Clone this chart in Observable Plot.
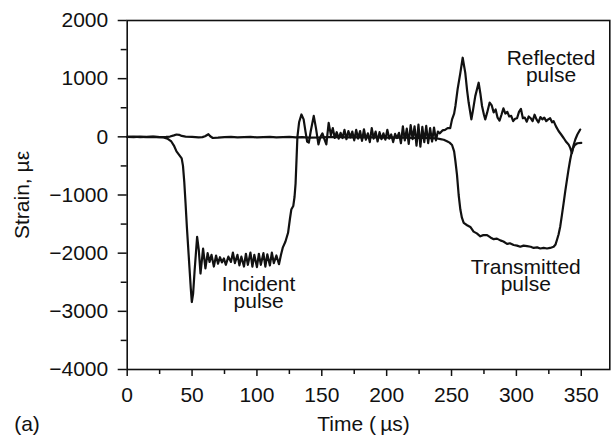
<!DOCTYPE html>
<html>
<head>
<meta charset="utf-8">
<script src="https://cdn.jsdelivr.net/npm/d3@7"></script>
<script src="https://cdn.jsdelivr.net/npm/@observablehq/plot@0.6"></script>
<style>
  html, body { margin: 0; padding: 0; background: #fff; }
</style>
</head>
<body>
<div id="chart"></div>
<script>
// Incident + reflected pulse (input bar gauge)
const incidentTime = [0,5,10,15,20,25,28,31,34,36,38,40,42,43,44,45,46,47,48,49,49.8,50.8,52,53.9,55.2,56.5,58.5,60.3,62,63.5,65,66.8,68.5,70,71.5,73,74.5,76,78,80,81.5,83,85,86.5,88,90,91.5,93,95,96.5,98,100,101.5,103,105,106.5,108,110,111.5,113,115,117,118.5,120,122,124,125.5,126.5,128,129,129.8,130.5,131.2,132.5,134.3,136,137.5,138.7,140,141.5,143.8,145.5,147.4,149,150.5,152,153.5,155.3,157,158.5,160,161.5,163,164.5,166,167.5,169,170.5,172,173.5,175,176.5,178,179.5,181,182.5,184,185.5,187,188.5,190,191.5,193,194.5,196,197.5,199,200.5,202,203.5,205,206.5,208,209.5,211,212.5,214,215.5,217,218.5,220,221.5,223,224.5,226,227.5,229,230.5,232,233.5,235,236.5,238,239.5,241,243,245,247,249,250.4,252,253,254.7,256.8,258.6,260.6,262,263.2,265.3,266.5,268.3,270.9,272.2,273.5,275,276,277.5,279.4,281,282.5,284,285.5,287,288.5,290,291.5,293,294.5,296,297.5,299,300.5,302,303.5,305,306.5,308,309.5,311,312.5,314,315.5,317,318.5,320,321.5,323,324.5,326,327.5,328.7,330.5,332.5,334.5,336.4,338.5,340.2,341.5,342.8,344,345.4,347,349.2];
const incidentStrain = [0,5,-5,0,5,-5,-10,-30,-80,-150,-250,-310,-370,-500,-780,-1150,-1550,-1900,-2250,-2600,-2840,-2700,-2290,-1720,-1950,-2350,-1920,-2260,-2000,-2150,-2030,-2230,-2040,-2180,-2070,-2160,-2090,-2200,-2060,-2150,-1990,-2170,-2030,-2210,-2060,-2230,-2010,-2200,-1990,-2230,-2030,-2240,-2010,-2200,-2000,-2230,-2020,-2210,-1990,-2170,-2040,-2190,-2030,-1900,-1800,-1650,-1400,-1250,-1190,-1030,-800,-400,0,250,385,300,80,-80,-100,100,360,150,-130,0,60,-40,-130,240,30,150,-20,80,-30,70,-20,120,-40,100,-10,90,-60,120,-30,100,-70,130,-50,60,-90,150,-30,90,-80,80,-40,60,-50,120,-30,40,-90,50,-20,70,-110,180,-60,140,-120,200,-40,180,-150,210,-170,170,-90,190,-110,150,-80,160,-60,90,60,110,120,150,150,300,400,530,820,1100,1360,1100,800,590,300,450,700,930,750,530,380,300,420,590,540,420,470,330,280,380,490,400,430,350,360,270,310,320,430,480,320,330,260,350,320,270,380,300,250,340,300,330,270,300,320,250,270,180,100,40,-20,-90,-130,-190,-280,-150,-45,40,125];

// Transmitted pulse (output bar gauge)
const transmittedTime = [0,5,10,15,20,25,30,33,36,38,40,42,45,50,55,58,60,62.6,64,66,70,75,80,85,90,95,100,105,110,115,120,125,130,135,140,150,160,170,180,190,200,210,220,230,238,241.5,244,246.5,248.5,250.4,252,253,254.2,255.5,256.8,258,259.4,262,264.5,267,269.5,272.2,274.5,277.4,280,282.5,285,287.6,290,292.8,295,297.9,300.5,303,305.5,308.2,311,313.3,316,318.4,321,323.6,326,328.7,330.2,331.3,332.5,333.8,335,336.4,337.7,339,340.2,341.5,342.5,343.6,345,347,350];
const transmittedStrain = [0,-5,5,-5,0,-5,0,5,25,40,35,15,5,0,-10,-5,10,45,10,-20,-15,-5,0,-10,-5,0,-10,-5,0,-10,-5,0,-10,-5,-15,-10,0,-10,-5,-10,-15,-10,-20,-20,-25,-40,-50,-75,-100,-140,-250,-420,-650,-1000,-1250,-1390,-1480,-1520,-1550,-1630,-1660,-1710,-1690,-1690,-1730,-1760,-1750,-1780,-1800,-1840,-1830,-1860,-1870,-1890,-1870,-1880,-1890,-1910,-1900,-1920,-1910,-1920,-1910,-1890,-1850,-1770,-1680,-1540,-1360,-1140,-930,-735,-560,-390,-280,-200,-140,-110,-105];

// Axis ticks
const xMajorTicks = [0,50,100,150,200,250,300,350];
const xMinorTicks = [25,75,125,175,225,275,325];
const yMajorTicks = [-4000,-3000,-2000,-1000,0,1000,2000];
const yMinorTicks = [-3500,-2500,-1500,-500,500,1500];

// Annotations (anchor = baseline of the last line)
const labelText = ["Incident\npulse","Transmitted\npulse","Reflected\npulse"];
const labelTime = [101.3,307.2,326.7];
const labelStrain = [-2943,-2646,941];

const incident = incidentTime.map((t, i) => ({t, s: incidentStrain[i]}));
const transmitted = transmittedTime.map((t, i) => ({t, s: transmittedStrain[i]}));
const labels = labelText.map((text, i) => ({text, t: labelTime[i], s: labelStrain[i]}));

const fmt = d3.format("d");
const ink = "#111";

const chart = Plot.plot({
  width: 613,
  height: 439,
  marginLeft: 126.7,
  marginRight: 3.7,
  marginTop: 20,
  marginBottom: 70,
  style: {fontFamily: "'Liberation Sans', Arial, Helvetica, sans-serif", fontSize: "21px", color: ink, background: "#fff", overflow: "visible"},
  x: {domain: [0, 372]},
  y: {domain: [-4000, 2000]},
  marks: [
    Plot.frame({stroke: ink, strokeWidth: 1.6}),
    Plot.axisX({ticks: xMajorTicks, tickSize: 7, tickPadding: 11, tickFormat: fmt, label: null, stroke: ink, strokeWidth: 1.5, fontSize: 21}),
    Plot.axisX({ticks: xMinorTicks, tickSize: 5, tickFormat: () => "", label: null, stroke: ink, strokeWidth: 1.5}),
    Plot.axisY({ticks: yMajorTicks, tickSize: 9, tickPadding: 10, tickFormat: fmt, label: null, stroke: ink, strokeWidth: 1.5, fontSize: 21}),
    Plot.axisY({ticks: yMinorTicks, tickSize: 6, tickFormat: () => "", label: null, stroke: ink, strokeWidth: 1.5}),
    Plot.line(incident, {x: "t", y: "s", stroke: ink, strokeWidth: 2.2}),
    Plot.line(transmitted, {x: "t", y: "s", stroke: ink, strokeWidth: 2.2}),
    Plot.text(labels, {x: "t", y: "s", text: "text", textAnchor: "middle", lineAnchor: "bottom", lineHeight: 0.8, fontSize: 21, fill: ink}),
    Plot.text(["Time (\u2009\u00b5s)"], {frameAnchor: "bottom", lineAnchor: "bottom", dy: 61, dx: -5, fontSize: 21, fill: ink}),
    Plot.text(["(a)"], {frameAnchor: "bottom-left", textAnchor: "start", lineAnchor: "bottom", dy: 61, dx: -113, fontSize: 21, fill: ink}),
    Plot.text(["Strain, \u00b5\u03b5"], {frameAnchor: "left", rotate: -90, textAnchor: "middle", lineAnchor: "bottom", dx: -98.5, fontSize: 21, fill: ink})
  ]
});
document.getElementById("chart").appendChild(chart);
</script>
</body>
</html>
